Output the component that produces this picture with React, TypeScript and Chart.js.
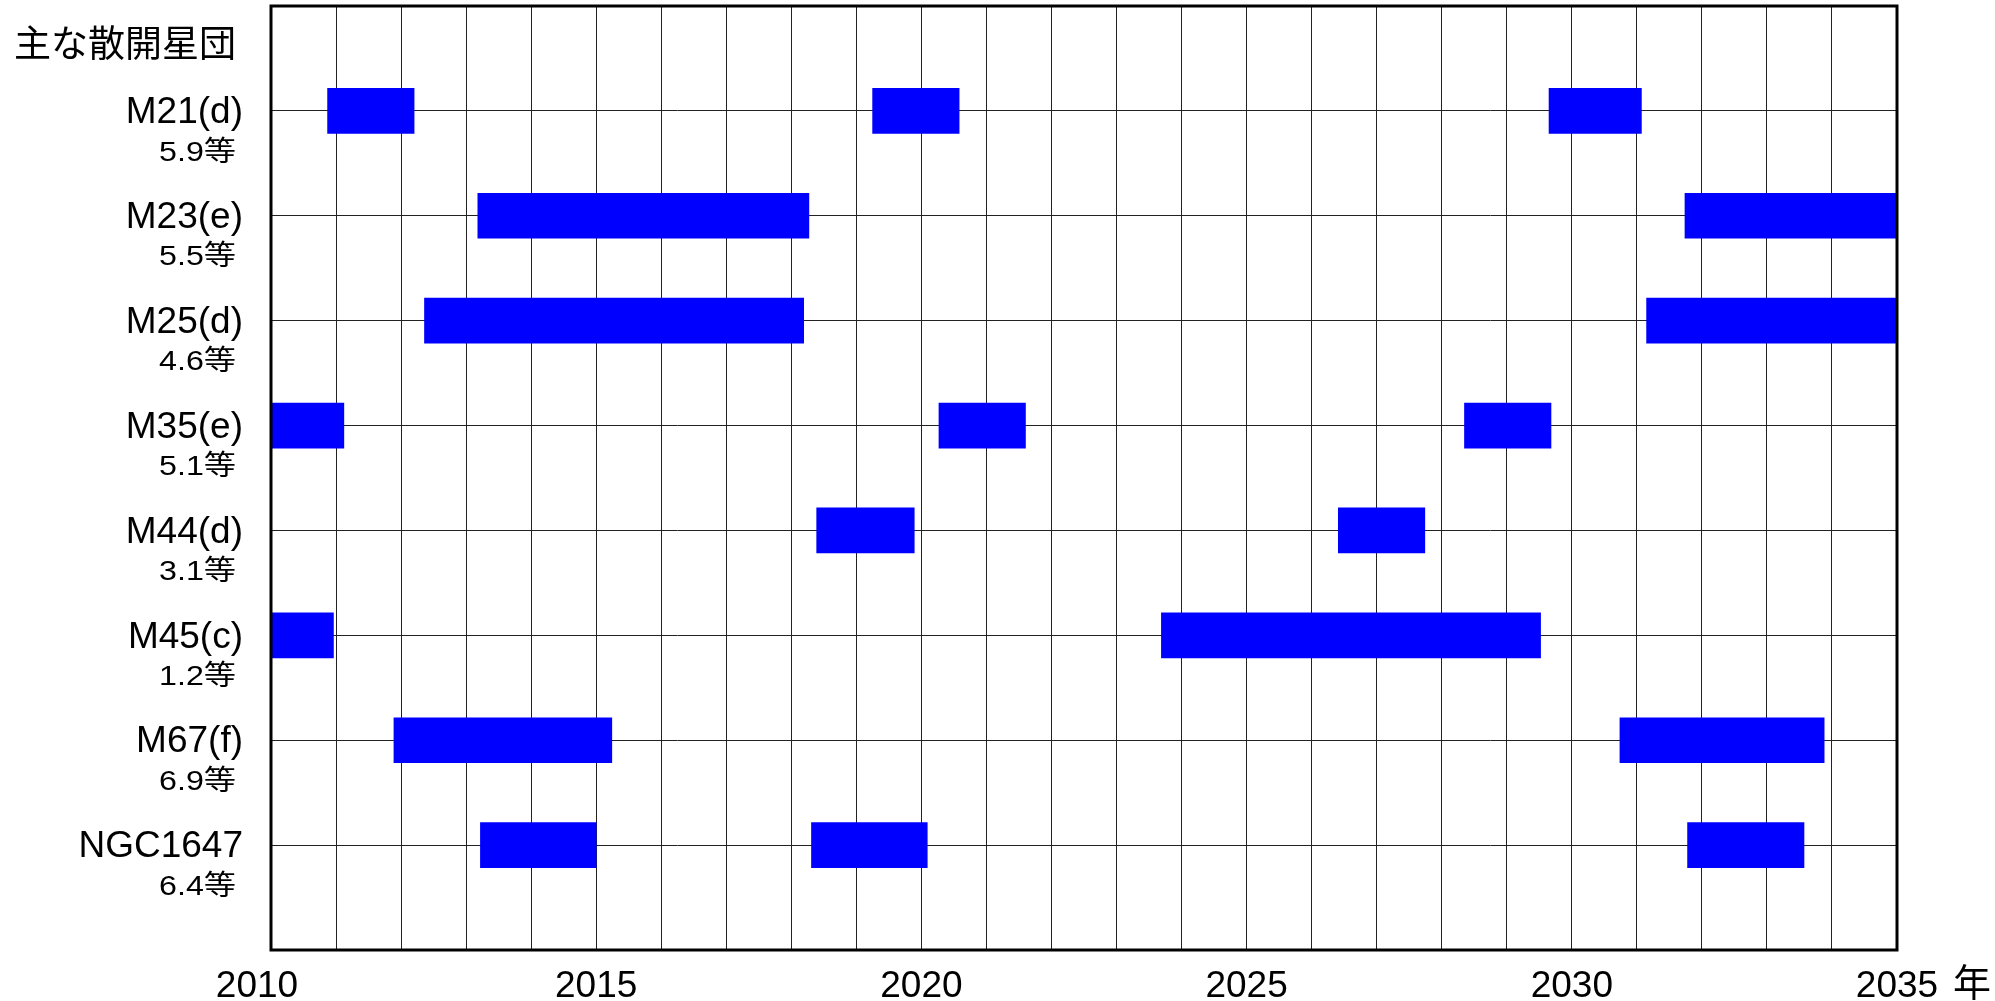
import { useEffect, useRef } from 'react';
import { Chart, registerables } from 'chart.js';

Chart.register(...registerables);

const TITLE = '主な散開星団';
const YEAR_UNIT = '年';
const CLUSTERS = ['M21(d)', 'M23(e)', 'M25(d)', 'M35(e)', 'M44(d)', 'M45(c)', 'M67(f)', 'NGC1647'];
const MAGNITUDES = ['5.9等', '5.5等', '4.6等', '5.1等', '3.1等', '1.2等', '6.9等', '6.4等'];

// visibility periods (start year, end year) — up to three per cluster
const PERIOD_1: ([number, number] | null)[] = [
  [2010.87, 2012.2],
  [2013.18, 2018.27],
  [2012.36, 2018.19],
  [2010.0, 2011.12],
  [2018.39, 2019.89],
  [2010.0, 2010.96],
  [2011.89, 2015.24],
  [2013.22, 2015.0],
];
const PERIOD_2: ([number, number] | null)[] = [
  [2019.25, 2020.58],
  [2031.74, 2035.0],
  [2031.15, 2035.0],
  [2020.27, 2021.6],
  [2026.41, 2027.74],
  [2023.69, 2029.52],
  [2030.74, 2033.88],
  [2018.31, 2020.09],
];
const PERIOD_3: ([number, number] | null)[] = [
  [2029.65, 2031.07],
  null,
  null,
  [2028.35, 2029.68],
  null,
  null,
  null,
  [2031.78, 2033.57],
];

const YEAR_MIN = 2010;
const YEAR_MAX = 2035;
const LABELED_YEARS = [2010, 2015, 2020, 2025, 2030, 2035];

const LATIN = '"Liberation Sans", Arial, sans-serif';
const MIXED = '"Liberation Sans", "Noto Sans CJK JP", sans-serif';
const CJK = '"Noto Sans CJK JP", sans-serif';

export default function App() {
  const ref = useRef<HTMLCanvasElement>(null);

  useEffect(() => {
    if (!ref.current) return;
    const labels = ['', ...CLUSTERS, ''];
    const pad = (arr: ([number, number] | null)[]) => [null, ...arr, null];

    const decor = {
      id: 'decor',
      afterDraw(chart: any) {
        const { ctx, chartArea } = chart;
        const xs = chart.scales.x;
        const ys = chart.scales.y;
        ctx.save();
        // frame
        ctx.strokeStyle = '#000';
        ctx.lineWidth = 3;
        ctx.strokeRect(chartArea.left, chartArea.top, chartArea.right - chartArea.left, chartArea.bottom - chartArea.top);
        // title
        ctx.fillStyle = '#000';
        ctx.font = `37px ${CJK}`;
        ctx.textAlign = 'left';
        ctx.textBaseline = 'middle';
        ctx.fillText(TITLE, 14, 43);
        // first year label (set slightly left of its gridline, as in the original)
        ctx.font = `37px ${LATIN}`;
        ctx.textAlign = 'center';
        ctx.fillText(String(YEAR_MIN), xs.getPixelForValue(YEAR_MIN) - 14, chartArea.bottom + 15 + 22);
        // magnitudes
        ctx.font = `28px ${MIXED}`;
        ctx.textAlign = 'right';
        MAGNITUDES.forEach((m, i) => {
          const y = ys.getPixelForValue(i + 1) + 42;
          ctx.save();
          ctx.translate(chartArea.left - 35, y);
          ctx.scale(1.15, 1);
          ctx.fillText(m, 0, 0);
          ctx.restore();
        });
        // year unit
        ctx.font = `38px ${CJK}`;
        ctx.textAlign = 'left';
        ctx.textBaseline = 'middle';
        ctx.fillText(YEAR_UNIT, xs.getPixelForValue(YEAR_MAX) + 56, chartArea.bottom + 32);
        ctx.restore();
      },
    };

    const chart = new Chart(ref.current, {
      type: 'bar',
      data: {
        labels,
        datasets: [PERIOD_1, PERIOD_2, PERIOD_3].map((d, i) => ({
          label: `period ${i + 1}`,
          data: pad(d) as any,
          backgroundColor: '#0000ff',
          borderWidth: 0,
          barThickness: 45,
          grouped: false,
        })),
      },
      options: {
        indexAxis: 'y',
        responsive: false,
        animation: false,
        devicePixelRatio: 1,
        layout: { padding: { left: 0, right: 98, top: 6, bottom: 0 } },
        plugins: { legend: { display: false }, tooltip: { enabled: false } },
        scales: {
          x: {
            type: 'linear',
            min: YEAR_MIN,
            max: YEAR_MAX,
            grid: { color: '#222', lineWidth: 1, drawTicks: false },
            border: { display: false },
            ticks: {
              stepSize: 1,
              maxTicksLimit: 100,
              autoSkip: false,
              maxRotation: 0,
              padding: 15,
              color: '#000',
              font: { family: LATIN, size: 37 },
              callback: (v: any) =>
                Number(v) !== YEAR_MIN && LABELED_YEARS.includes(Number(v)) ? String(v) : '',
            },
            afterFit: (s: any) => {
              s.height = 51;
              s.paddingLeft = 0;
              s.paddingRight = 0;
            },
          },
          y: {
            type: 'category',
            offset: false,
            grid: { color: '#222', lineWidth: 1, drawTicks: false, offset: false },
            border: { display: false },
            ticks: {
              autoSkip: false,
              padding: 28,
              labelOffset: 2,
              color: '#000',
              font: { family: LATIN, size: 37 },
            },
            afterFit: (s: any) => {
              s.width = 271;
              s.paddingTop = 0;
              s.paddingBottom = 0;
            },
          },
        },
      } as any,
      plugins: [decor],
    });
    return () => chart.destroy();
  }, []);

  return (
    <div style={{ position: 'fixed', left: 0, top: 0, width: 1995, height: 1001, background: '#fff' }}>
      <canvas ref={ref} width={1995} height={1001} style={{ display: 'block' }} />
    </div>
  );
}
